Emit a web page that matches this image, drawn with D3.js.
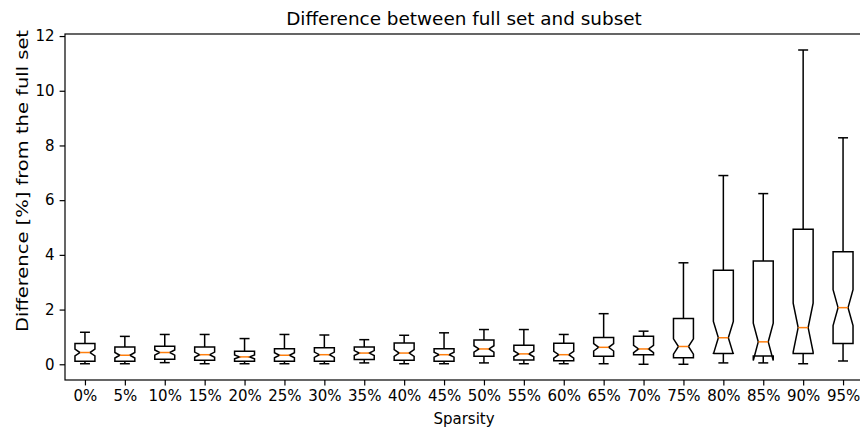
<!DOCTYPE html>
<html>
<head>
<meta charset="utf-8">
<script src="https://cdn.jsdelivr.net/npm/d3@7"></script>
<style>
  html, body { margin: 0; padding: 0; background: #ffffff; }
  svg { display: block; }
  text { font-family: "DejaVu Sans", sans-serif; fill: #000; }
</style>
</head>
<body>
<script>
// Sparsity levels on the x axis
const categories = ["0%", "5%", "10%", "15%", "20%", "25%", "30%", "35%", "40%", "45%",
                    "50%", "55%", "60%", "65%", "70%", "75%", "80%", "85%", "90%", "95%"];

// Box statistics per sparsity level, difference in %
const whiskerLow  = [0.02, 0.02, 0.06, 0.02, 0.02, 0.02, 0.02, 0.05, 0.02, 0.02,
                     0.05, 0.02, 0.02, 0.02, 0.00, 0.00, 0.05, 0.05, 0.02, 0.12];
const quartile1   = [0.11, 0.11, 0.18, 0.15, 0.11, 0.11, 0.11, 0.17, 0.15, 0.11,
                     0.29, 0.16, 0.13, 0.29, 0.35, 0.24, 0.39, 0.30, 0.39, 0.76];
const medians     = [0.43, 0.33, 0.43, 0.35, 0.27, 0.33, 0.35, 0.41, 0.41, 0.35,
                     0.56, 0.38, 0.35, 0.62, 0.56, 0.65, 0.97, 0.82, 1.34, 2.07];
const quartile3   = [0.76, 0.63, 0.66, 0.63, 0.48, 0.57, 0.60, 0.63, 0.78, 0.57,
                     0.89, 0.70, 0.77, 0.98, 1.02, 1.67, 3.44, 3.78, 4.94, 4.11];
const whiskerHigh = [1.17, 1.02, 1.09, 1.09, 0.94, 1.09, 1.07, 0.90, 1.06, 1.15,
                     1.27, 1.27, 1.09, 1.85, 1.21, 3.71, 6.90, 6.24, 11.49, 8.28];

// Samples behind each box, used for the notch (median confidence interval)
const sampleSize = 64;

const yTicks = [0, 2, 4, 6, 8, 10, 12];

const W = 860, H = 432;
const plot = { left: 65, right: 863, top: 34, bottom: 380 };

const svg = d3.select("body").append("svg")
  .attr("width", W).attr("height", H)
  .attr("viewBox", `0 0 ${W} ${H}`);

const x = d3.scaleLinear().domain([0.5, categories.length + 0.5]).range([plot.left, plot.right]);
const y = d3.scaleLinear().domain([-0.575, 12.075]).range([plot.bottom, plot.top]);

const boxes = categories.map((c, i) => {
  const iqr = quartile3[i] - quartile1[i];
  const half = 1.57 * iqr / Math.sqrt(sampleSize);
  return {
    pos: i + 1, label: c,
    lo: whiskerLow[i], q1: quartile1[i], med: medians[i], q3: quartile3[i], hi: whiskerHigh[i],
    nlo: medians[i] - half, nhi: medians[i] + half
  };
});

const boxW = 0.5;           // box width in position units
const waist = boxW * 0.25;  // half-width at the notch waist
const capW = boxW * 0.25;   // half-width of whisker caps

const g = svg.append("g");
const line = d3.line().x(d => x(d[0])).y(d => y(d[1]));

const box = g.selectAll("g.box").data(boxes).join("g").attr("class", "box");

// whiskers
box.append("path")
  .attr("d", d => line([[d.pos, d.q1], [d.pos, d.lo]]))
  .attr("stroke", "#000").attr("stroke-width", 1.5).attr("fill", "none");
box.append("path")
  .attr("d", d => line([[d.pos, d.q3], [d.pos, d.hi]]))
  .attr("stroke", "#000").attr("stroke-width", 1.5).attr("fill", "none");
// caps
box.append("path")
  .attr("d", d => line([[d.pos - capW, d.lo], [d.pos + capW, d.lo]]))
  .attr("stroke", "#000").attr("stroke-width", 1.5).attr("fill", "none");
box.append("path")
  .attr("d", d => line([[d.pos - capW, d.hi], [d.pos + capW, d.hi]]))
  .attr("stroke", "#000").attr("stroke-width", 1.5).attr("fill", "none");

// notched box outline
box.append("path")
  .attr("d", d => {
    const l = d.pos - boxW / 2, r = d.pos + boxW / 2;
    return line([
      [l, d.q1], [r, d.q1], [r, d.nlo], [d.pos + waist, d.med], [r, d.nhi],
      [r, d.q3], [l, d.q3], [l, d.nhi], [d.pos - waist, d.med], [l, d.nlo], [l, d.q1]
    ]) + "Z";
  })
  .attr("stroke", "#000").attr("stroke-width", 1.5).attr("fill", "none")
  .attr("stroke-linejoin", "miter");

// median
box.append("path")
  .attr("d", d => line([[d.pos - waist, d.med], [d.pos + waist, d.med]]))
  .attr("stroke", "#ff7f0e").attr("stroke-width", 1.5).attr("fill", "none");

// axes
const xAxis = d3.axisBottom(x)
  .tickValues(boxes.map(d => d.pos))
  .tickFormat((d, i) => categories[i])
  .tickSize(5.4).tickSizeOuter(0).tickPadding(5);
const yAxis = d3.axisLeft(y)
  .tickValues(yTicks)
  .tickFormat(d3.format("d"))
  .tickSize(5.4).tickSizeOuter(0).tickPadding(5);

const gx = svg.append("g").attr("transform", `translate(0,${plot.bottom})`).call(xAxis);
const gy = svg.append("g").attr("transform", `translate(${plot.left},0)`).call(yAxis);
[gx, gy].forEach(a => {
  a.selectAll("text").attr("font-size", 15).attr("font-family", "DejaVu Sans").attr("fill", "#000");
  a.selectAll("line").attr("stroke", "#000").attr("stroke-width", 1.2);
  a.select(".domain").remove();
});

// spines
svg.append("rect")
  .attr("x", plot.left).attr("y", plot.top)
  .attr("width", plot.right - plot.left).attr("height", plot.bottom - plot.top)
  .attr("fill", "none").attr("stroke", "#000").attr("stroke-width", 1.2);

// titles
svg.append("text")
  .attr("x", (plot.left + plot.right) / 2).attr("y", 25)
  .attr("text-anchor", "middle").attr("font-size", 18.4)
  .text("Difference between full set and subset");
svg.append("text")
  .attr("x", (plot.left + plot.right) / 2).attr("y", 424)
  .attr("text-anchor", "middle").attr("font-size", 15)
  .text("Sparsity");
svg.append("text")
  .attr("transform", "translate(28,181) rotate(-90)")
  .attr("text-anchor", "middle").attr("font-size", 15)
  .attr("textLength", 302).attr("lengthAdjust", "spacingAndGlyphs")
  .text("Difference [%] from the full set");
</script>
</body>
</html>
